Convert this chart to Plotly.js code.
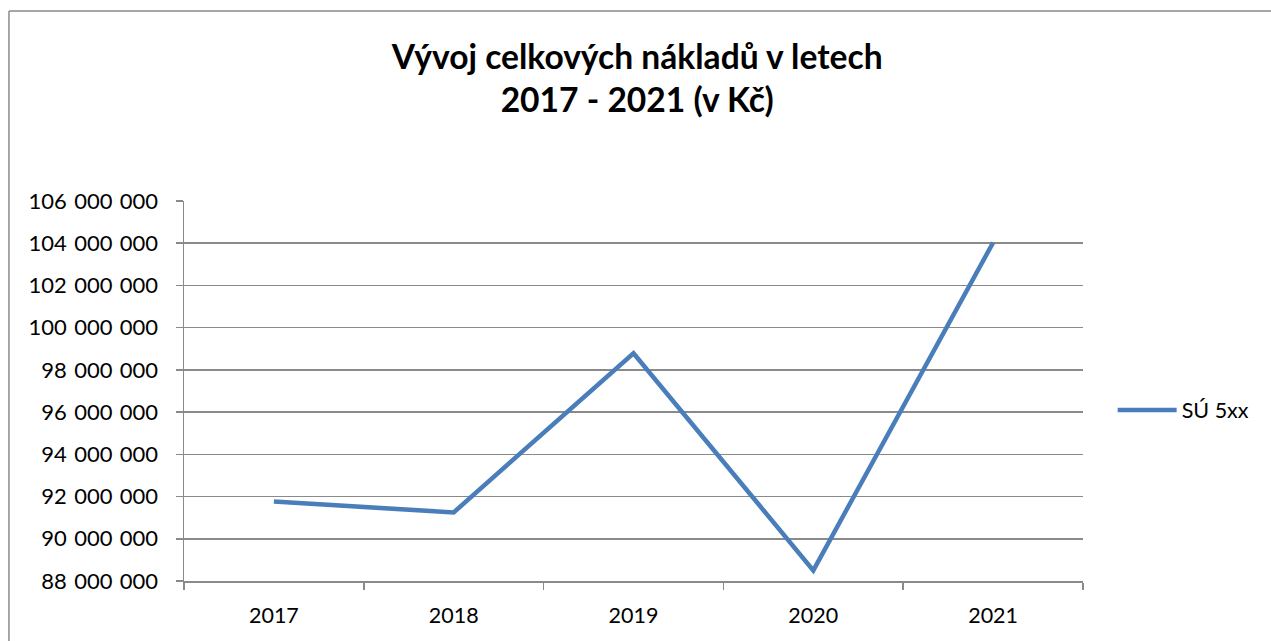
<!DOCTYPE html>
<html>
<head>
<meta charset="utf-8">
<script src="https://cdn.plot.ly/plotly-3.0.1.min.js"></script>
<style>
html,body{margin:0;padding:0;background:#fff;}
#chart{width:1271px;height:641px;}
</style>
</head>
<body>
<div id="chart"></div>
<script>
const years = ['2017', '2018', '2019', '2020', '2021'];
const naklady = [91760000, 91250000, 98790000, 88500000, 104030000];
const seriesName = 'SÚ 5xx';
const titleText = 'Vývoj celkových nákladů v letech<br>2017 - 2021 (v Kč)';

const gridColor = '#8a8a8a';
const fontFam = 'Lato, "Open Sans", sans-serif';

const trace = {
  x: years,
  y: naklady,
  type: 'scatter',
  mode: 'lines',
  name: seriesName,
  line: {color: '#4a7ebb', width: 4.5},
  showlegend: true
};

const layout = {
  width: 1271,
  height: 641,
  paper_bgcolor: '#ffffff',
  plot_bgcolor: '#ffffff',
  separators: ',\u2004',
  margin: {l: 184, r: 188, t: 201, b: 60},
  font: {family: fontFam, color: '#000', size: 21.5},
  title: {
    text: titleText,
    font: {family: fontFam, size: 33.6, color: '#000', weight: 'bold'},
    x: 0.5013,
    xanchor: 'center',
    xref: 'container',
    y: 0.893,
    yanchor: 'middle',
    yref: 'container'
  },
  xaxis: {
    type: 'category',
    range: [-0.5, 4.5],
    showgrid: false,
    showline: true,
    linecolor: gridColor,
    linewidth: 1.5,
    ticks: 'outside',
    tickson: 'boundaries',
    ticklen: 7,
    tickwidth: 1.5,
    tickcolor: gridColor,
    ticklabelstandoff: 15,
    tickfont: {family: fontFam, size: 21.5, color: '#000'},
    zeroline: false,
    fixedrange: true
  },
  yaxis: {
    range: [88000000, 106000000],
    dtick: 2000000,
    tick0: 88000000,
    tickformat: ',d',
    showgrid: true,
    gridcolor: gridColor,
    gridwidth: 1.5,
    showline: true,
    linecolor: gridColor,
    linewidth: 1.5,
    ticks: 'outside',
    ticklen: 7,
    tickwidth: 1.5,
    tickcolor: gridColor,
    ticklabelstandoff: 13,
    tickfont: {family: fontFam, size: 22, color: '#000'},
    zeroline: false,
    fixedrange: true
  },
  legend: {
    x: 1.033,
    xanchor: 'left',
    y: 0.45,
    yanchor: 'middle',
    itemwidth: 59,
    bgcolor: 'rgba(0,0,0,0)',
    font: {family: fontFam, size: 21.5, color: '#000'}
  },
  shapes: [
    {type: 'line', xref: 'paper', yref: 'paper', x0: -0.1947, x1: 1.215, y0: 1.5, y1: 1.5,
     line: {color: '#8a8a8a', width: 1.5}},
    {type: 'line', xref: 'paper', yref: 'paper', x0: -0.1947, x1: -0.1947, y0: 1.5, y1: -0.17,
     line: {color: '#8a8a8a', width: 1.5}}
  ]
};

Plotly.newPlot('chart', [trace], layout, {displayModeBar: false, staticPlot: true});
</script>
</body>
</html>
